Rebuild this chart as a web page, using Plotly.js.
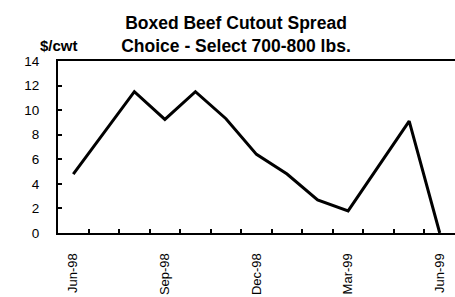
<!DOCTYPE html>
<html>
<head>
<meta charset="utf-8">
<script src="https://cdn.plot.ly/plotly-3.0.1.min.js"></script>
<style>html,body{margin:0;padding:0;background:#fff;}#chart{width:455px;height:297px;}</style>
</head>
<body>
<div id="chart"></div>
<script>
var months = ["Jun-98","Jul-98","Aug-98","Sep-98","Oct-98","Nov-98","Dec-98","Jan-99","Feb-99","Mar-99","Apr-99","May-99","Jun-99"];
var spread = [4.8, 8.1, 11.5, 9.25, 11.5, 9.3, 6.4, 4.8, 2.7, 1.8, 5.4, 9.1, 0];
var labelledMonths = ["Jun-98","Sep-98","Dec-98","Mar-99","Jun-99"];
var yTicks = [0,2,4,6,8,10,12,14];

var font = "Liberation Sans, Arial, sans-serif";
// boundaries between month categories (for tick marks)
var boundaries = [];
for (var i = 0; i < months.length - 1; i++) boundaries.push(i + 0.5);

var trace = {
  x: months, y: spread, type: "scatter", mode: "lines",
  line: {color: "#000", width: 3}, hoverinfo: "none"
};
var tickTrace = {
  x: [0], y: [null], xaxis: "x2", yaxis: "y", type: "scatter", mode: "lines", hoverinfo: "none"
};
var layout = {
  width: 455, height: 297,
  margin: {l: 58, r: 0, t: 61, b: 64},
  paper_bgcolor: "#fff", plot_bgcolor: "#fff",
  showlegend: false,
  font: {family: font, color: "#000", size: 13},
  title: {
    text: "<b>Boxed Beef Cutout Spread<br>Choice - Select 700-800 lbs.</b>",
    font: {family: font, size: 17.5, color: "#000"},
    xref: "container", x: 236/455, xanchor: "center",
    yref: "container", y: 1 - 29/297, yanchor: "middle"
  },
  xaxis: {
    type: "category", range: [-0.5, months.length - 0.5],
    tickmode: "array", tickvals: labelledMonths, ticktext: labelledMonths,
    ticks: "", tickangle: -90, tickfont: {family: font, size: 13, color: "#000"},
    ticklabelstandoff: 13,
    showline: true, linewidth: 2, linecolor: "#000", mirror: true,
    showgrid: false, zeroline: false, fixedrange: true
  },
  xaxis2: {
    overlaying: "x", side: "bottom", type: "linear", anchor: "y",
    range: [-0.5, months.length - 0.5],
    tickmode: "array", tickvals: boundaries, showticklabels: false,
    ticks: "inside", ticklen: 4, tickwidth: 2, tickcolor: "#000",
    showline: false, showgrid: false, zeroline: false, fixedrange: true
  },
  yaxis: {
    range: [0, 14], tickmode: "array", tickvals: yTicks,
    ticks: "inside", ticklen: 4, tickwidth: 2, tickcolor: "#000",
    tickfont: {family: font, size: 13.5, color: "#000"},
    ticklabelstandoff: 14,
    showline: true, linewidth: 2, linecolor: "#000", mirror: true,
    showgrid: false, zeroline: false, fixedrange: true
  },
  annotations: [{
    text: "<b>$/cwt</b>", xref: "paper", yref: "paper",
    x: (38 - 58) / 397, y: (233 - 45) / 172, xanchor: "left", yanchor: "middle",
    showarrow: false, font: {family: font, size: 15, color: "#000"}
  }]
};
Plotly.newPlot("chart", [trace, tickTrace], layout, {staticPlot: true, displayModeBar: false});
</script>
</body>
</html>
